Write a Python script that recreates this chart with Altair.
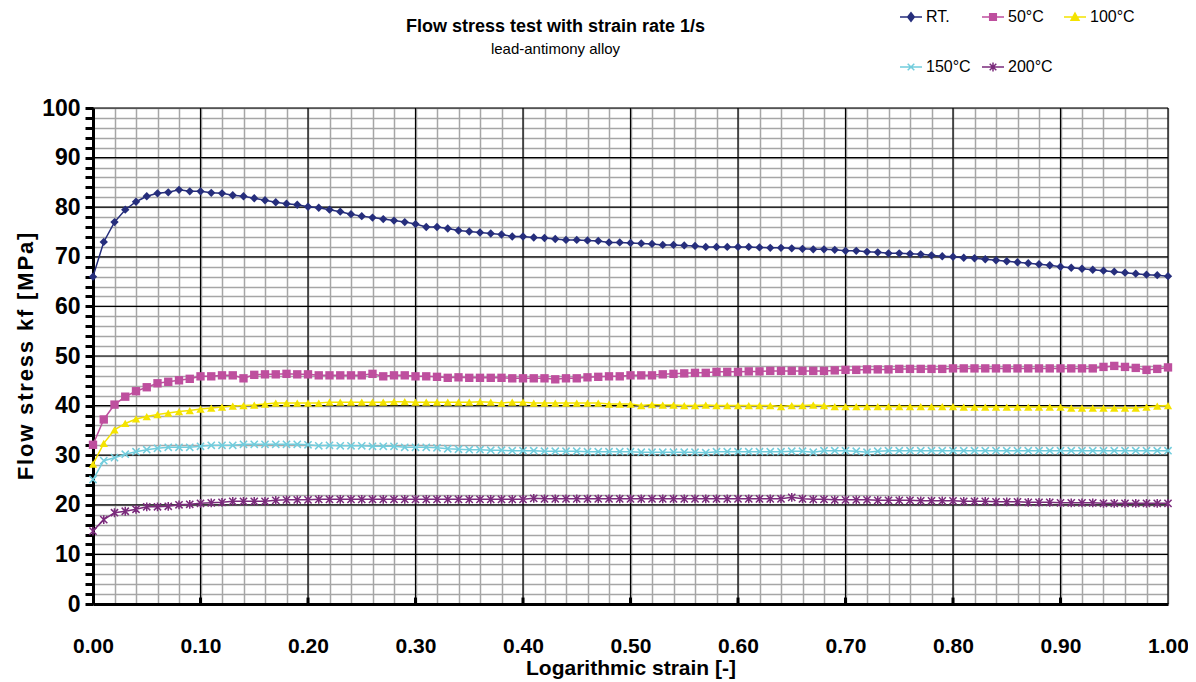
import altair as alt
import pandas as pd

# ---- data -------------------------------------------------------------
strain = [round(i / 100, 2) for i in range(101)]

series_names = ["RT.", "50°C", "100°C", "150°C", "200°C"]

rt = [66.0, 73.0, 77.0, 79.5, 81.1, 82.2, 82.8, 83.0, 83.5, 83.2,
      83.2, 82.9, 82.8, 82.4, 82.2, 81.8, 81.4, 81.0, 80.7, 80.5,
      80.1, 79.9, 79.5, 79.1, 78.6, 78.2, 77.9, 77.6, 77.3, 77.0,
      76.6, 76.0, 76.0, 75.7, 75.3, 75.1, 74.9, 74.7, 74.5, 74.1,
      74.1, 73.9, 73.8, 73.6, 73.4, 73.4, 73.3, 73.2, 72.9, 72.9,
      72.8, 72.7, 72.6, 72.4, 72.4, 72.3, 72.2, 72.0, 72.0, 72.0,
      72.0, 72.0, 71.9, 71.8, 71.8, 71.7, 71.6, 71.5, 71.5, 71.4,
      71.2, 71.2, 71.0, 70.9, 70.7, 70.7, 70.6, 70.5, 70.3, 70.1,
      70.0, 69.8, 69.7, 69.5, 69.3, 69.1, 68.9, 68.7, 68.5, 68.3,
      68.0, 67.8, 67.6, 67.4, 67.2, 67.0, 66.8, 66.6, 66.4, 66.3,
      66.1]

c50 = [32.1, 37.2, 40.2, 41.8, 42.9, 43.7, 44.5, 44.8, 45.1, 45.4,
       45.9, 45.9, 46.1, 46.1, 45.5, 46.2, 46.3, 46.3, 46.4, 46.3,
       46.3, 46.1, 46.1, 46.1, 46.1, 46.1, 46.4, 45.9, 46.1, 46.1,
       45.9, 45.9, 45.8, 45.6, 45.7, 45.6, 45.6, 45.6, 45.6, 45.5,
       45.5, 45.5, 45.5, 45.3, 45.5, 45.5, 45.7, 45.8, 45.9, 45.9,
       46.1, 46.1, 46.1, 46.3, 46.4, 46.5, 46.6, 46.6, 46.8, 46.8,
       46.8, 46.9, 46.9, 47.0, 47.0, 47.0, 47.0, 47.0, 47.0, 47.1,
       47.2, 47.2, 47.3, 47.3, 47.3, 47.4, 47.4, 47.4, 47.4, 47.4,
       47.5, 47.5, 47.5, 47.5, 47.5, 47.5, 47.5, 47.5, 47.5, 47.5,
       47.5, 47.5, 47.5, 47.5, 47.8, 48.0, 47.8, 47.6, 47.2, 47.4,
       47.7]

c100 = [28.2, 32.4, 35.1, 36.4, 37.3, 37.8, 38.2, 38.5, 38.8, 39.0,
        39.3, 39.5, 39.7, 39.9, 40.0, 40.1, 40.3, 40.5, 40.5, 40.5,
        40.5, 40.5, 40.7, 40.7, 40.7, 40.7, 40.7, 40.7, 40.8, 40.8,
        40.7, 40.7, 40.7, 40.7, 40.7, 40.7, 40.8, 40.7, 40.5, 40.7,
        40.7, 40.5, 40.5, 40.5, 40.5, 40.5, 40.5, 40.5, 40.3, 40.3,
        40.3, 40.0, 40.2, 40.1, 40.1, 40.0, 40.0, 40.1, 40.0, 40.0,
        40.0, 40.0, 40.0, 40.0, 39.8, 40.0, 40.0, 40.1, 40.0, 39.8,
        39.8, 39.8, 39.8, 39.8, 39.8, 39.8, 39.8, 39.8, 39.8, 39.8,
        39.8, 39.7, 39.7, 39.7, 39.7, 39.7, 39.7, 39.7, 39.7, 39.7,
        39.7, 39.5, 39.5, 39.5, 39.5, 39.5, 39.5, 39.5, 39.7, 39.9,
        40.0]

c150 = [25.1, 28.9, 29.5, 30.2, 30.7, 31.1, 31.4, 31.6, 31.6, 31.6,
        31.8, 32.0, 32.0, 32.0, 32.2, 32.2, 32.2, 32.2, 32.2, 32.2,
        32.1, 31.9, 32.0, 31.9, 31.9, 31.9, 31.8, 31.8, 31.8, 31.6,
        31.6, 31.6, 31.5, 31.3, 31.2, 31.1, 31.1, 31.0, 31.0, 30.9,
        30.9, 30.9, 30.8, 30.8, 30.8, 30.8, 30.7, 30.7, 30.7, 30.7,
        30.7, 30.6, 30.6, 30.6, 30.6, 30.6, 30.6, 30.5, 30.7, 30.7,
        30.7, 30.7, 30.7, 30.7, 30.7, 30.8, 30.8, 30.6, 30.9, 30.9,
        30.9, 30.8, 30.6, 30.8, 30.9, 30.9, 30.9, 30.9, 30.9, 30.9,
        30.9, 30.9, 30.9, 30.9, 30.9, 30.9, 30.9, 30.9, 30.9, 30.9,
        30.9, 30.9, 30.9, 30.9, 30.9, 30.9, 30.9, 30.9, 30.9, 30.9,
        30.9]

c200 = [14.7, 17.0, 18.4, 18.7, 19.1, 19.6, 19.6, 19.7, 20.0, 20.1,
        20.3, 20.4, 20.5, 20.7, 20.7, 20.7, 20.7, 20.9, 21.0, 21.0,
        21.0, 21.1, 21.1, 21.1, 21.1, 21.1, 21.1, 21.1, 21.1, 21.1,
        21.1, 21.1, 21.1, 21.1, 21.1, 21.1, 21.1, 21.1, 21.1, 21.1,
        21.1, 21.3, 21.2, 21.2, 21.2, 21.2, 21.2, 21.2, 21.2, 21.2,
        21.2, 21.2, 21.2, 21.2, 21.2, 21.2, 21.2, 21.2, 21.2, 21.2,
        21.2, 21.2, 21.2, 21.2, 21.2, 21.5, 21.2, 21.1, 21.1, 21.0,
        21.0, 21.0, 21.0, 20.9, 20.9, 20.9, 20.9, 20.8, 20.8, 20.8,
        20.8, 20.7, 20.7, 20.7, 20.6, 20.6, 20.6, 20.5, 20.5, 20.5,
        20.4, 20.4, 20.4, 20.4, 20.3, 20.3, 20.3, 20.3, 20.3, 20.3,
        20.3]

colors = ["#262E7C", "#BE4F9E", "#F4E300", "#72CDDD", "#7B2B7C"]

x_minor = [round(i / 50, 2) for i in range(51)]
x_major = [round(i / 10, 1) for i in range(11)]
x_inner_ticks = [round(i / 10, 1) for i in range(1, 10)]
y_minor = list(range(0, 101, 2))
y_major = list(range(0, 101, 10))

# ---- tables -------------------------------------------------------------
rows = []
for name, vals in zip(series_names, [rt, c50, c100, c150, c200]):
    for s, v in zip(strain, vals):
        rows.append({"strain": s, "stress": v, "series": name})
df = pd.DataFrame(rows)

vgrid = pd.DataFrame({"strain": x_major})
hgrid = pd.DataFrame({"stress": y_major})
itick = pd.DataFrame({"strain": x_inner_ticks, "stress": [0] * 9, "stress2": [1.3] * 9})

FONT = "Liberation Sans"
HS = "\u200a"
y_title = (HS + "\u00a0" + HS).join(HS.join(list(w)) for w in ["Flow", "stress", "kf", "[MPa]"])

x_axis = alt.Axis(
    values=x_minor, format=".2f",
    labelExpr="round(datum.value*100) % 10 == 0 ? datum.label : ''",
    labelFontSize=21, labelFontWeight="bold", labelFont=FONT, labelColor="black",
    labelPadding=31, labelOverlap=False, labelFlush=False,
    ticks=False, domainColor="black", domainWidth=3,
    grid=True, gridColor="#A6A6A6", gridWidth=1.5,
    title="Logarithmic strain [-]", titleFontSize=21, titleFont=FONT,
    titleFontWeight="bold", titleColor="black", titlePadding=1,
)
y_axis = alt.Axis(
    values=y_minor,
    labelExpr="datum.value % 10 == 0 ? datum.label : ''",
    labelFontSize=23, labelFontWeight="bold", labelFont=FONT, labelColor="black",
    labelPadding=5, labelOverlap=False,
    tickSize=8, tickWidth=3, tickColor="black",
    domainColor="black", domainWidth=3,
    grid=True, gridColor="#A6A6A6", gridWidth=1.5,
    title=y_title, titleFontSize=22, titleFont=FONT,
    titleFontWeight="bold", titleColor="black", titlePadding=4,
)

x_enc = alt.X("strain:Q", scale=alt.Scale(domain=[0, 1], nice=False, zero=False), axis=x_axis)
y_enc = alt.Y("stress:Q", scale=alt.Scale(domain=[0, 100], nice=False), axis=y_axis)

color_scale = alt.Scale(domain=series_names, range=colors)
shape_scale = alt.Scale(
    domain=series_names,
    range=["diamond", "square", "triangle-up",
           "M-0.9,-0.9L0.9,0.9M-0.9,0.9L0.9,-0.9",
           "M-0.9,-0.9L0.9,0.9M-0.9,0.9L0.9,-0.9M0,-1.1V1.1"],
)
legend_shape_scale = alt.Scale(
    domain=series_names,
    range=["M-1,0H1M0,-0.38L0.3,0L0,0.38L-0.3,0Z",
           "M-1,0H1M-0.3,-0.3H0.3V0.3H-0.3Z",
           "M-1,0H1M0,-0.36L0.36,0.3H-0.36Z",
           "M-1,0H1M-0.3,-0.3L0.3,0.3M-0.3,0.3L0.3,-0.3",
           "M-1,0H1M-0.3,-0.3L0.3,0.3M-0.3,0.3L0.3,-0.3M0,-0.4V0.4"],
)

vmajor = alt.Chart(vgrid).mark_rule(color="black", strokeWidth=1.2).encode(x=x_enc)
hmajor = alt.Chart(hgrid).mark_rule(color="black", strokeWidth=1.2).encode(y=y_enc)
inner = alt.Chart(itick).mark_rule(color="black", strokeWidth=3).encode(
    x=x_enc, y=y_enc, y2="stress2:Q")

lines = alt.Chart(df).mark_line(strokeWidth=1.5).encode(
    x=x_enc, y=y_enc,
    color=alt.Color("series:N", scale=color_scale, legend=None),
)
filled_pts = alt.Chart(df).transform_filter(
    alt.FieldOneOfPredicate(field="series", oneOf=series_names[:3])
).mark_point(filled=True, opacity=1, size=70).encode(
    x=x_enc, y=y_enc,
    color=alt.Color("series:N", scale=color_scale, legend=None),
    shape=alt.Shape("series:N", scale=shape_scale, legend=None),
)
stroked_pts = alt.Chart(df).transform_filter(
    alt.FieldOneOfPredicate(field="series", oneOf=series_names[3:])
).mark_point(filled=False, opacity=1, size=64, strokeWidth=1.5).encode(
    x=x_enc, y=y_enc,
    color=alt.Color("series:N", scale=color_scale, legend=None),
    shape=alt.Shape("series:N", scale=shape_scale, legend=None),
)

legend = alt.Legend(
    title=None, orient="none", legendX=806, legendY=-103, direction="horizontal",
    columns=3, columnPadding=8, rowPadding=30, symbolSize=484, symbolStrokeWidth=1.5,
    labelFont=FONT, labelFontSize=16, labelColor="black", labelOffset=3,
)
legend_layer = alt.Chart(df).transform_filter("false").mark_point(
    filled=True, opacity=1, strokeWidth=1.5
).encode(
    x=x_enc, y=y_enc,
    fill=alt.Fill("series:N", scale=color_scale, legend=legend),
    stroke=alt.Stroke("series:N", scale=color_scale, legend=legend),
    shape=alt.Shape("series:N", scale=legend_shape_scale, legend=legend),
)

chart = alt.layer(
    vmajor, hmajor, inner, lines, filled_pts, stroked_pts, legend_layer
).resolve_scale(
    shape="independent", fill="independent", stroke="independent"
).properties(
    width=1075, height=496,
    padding={"left": 85, "top": 100, "right": 20, "bottom": 76},
    autosize=alt.AutoSizeParams(type="none"),
    title=alt.TitleParams(
        text="Flow stress test with strain rate  1/s",
        subtitle="lead-antimony alloy",
        font=FONT, fontSize=18, fontWeight="bold", color="black",
        subtitleFont=FONT, subtitleFontSize=15, subtitleColor="black",
        subtitlePadding=6, anchor="middle", dx=-75, offset=0, dy=52,
    ),
).configure_view(stroke=None).configure(background="white")

chart.save("out.html", embed_options={"renderer": "svg", "actions": False})
